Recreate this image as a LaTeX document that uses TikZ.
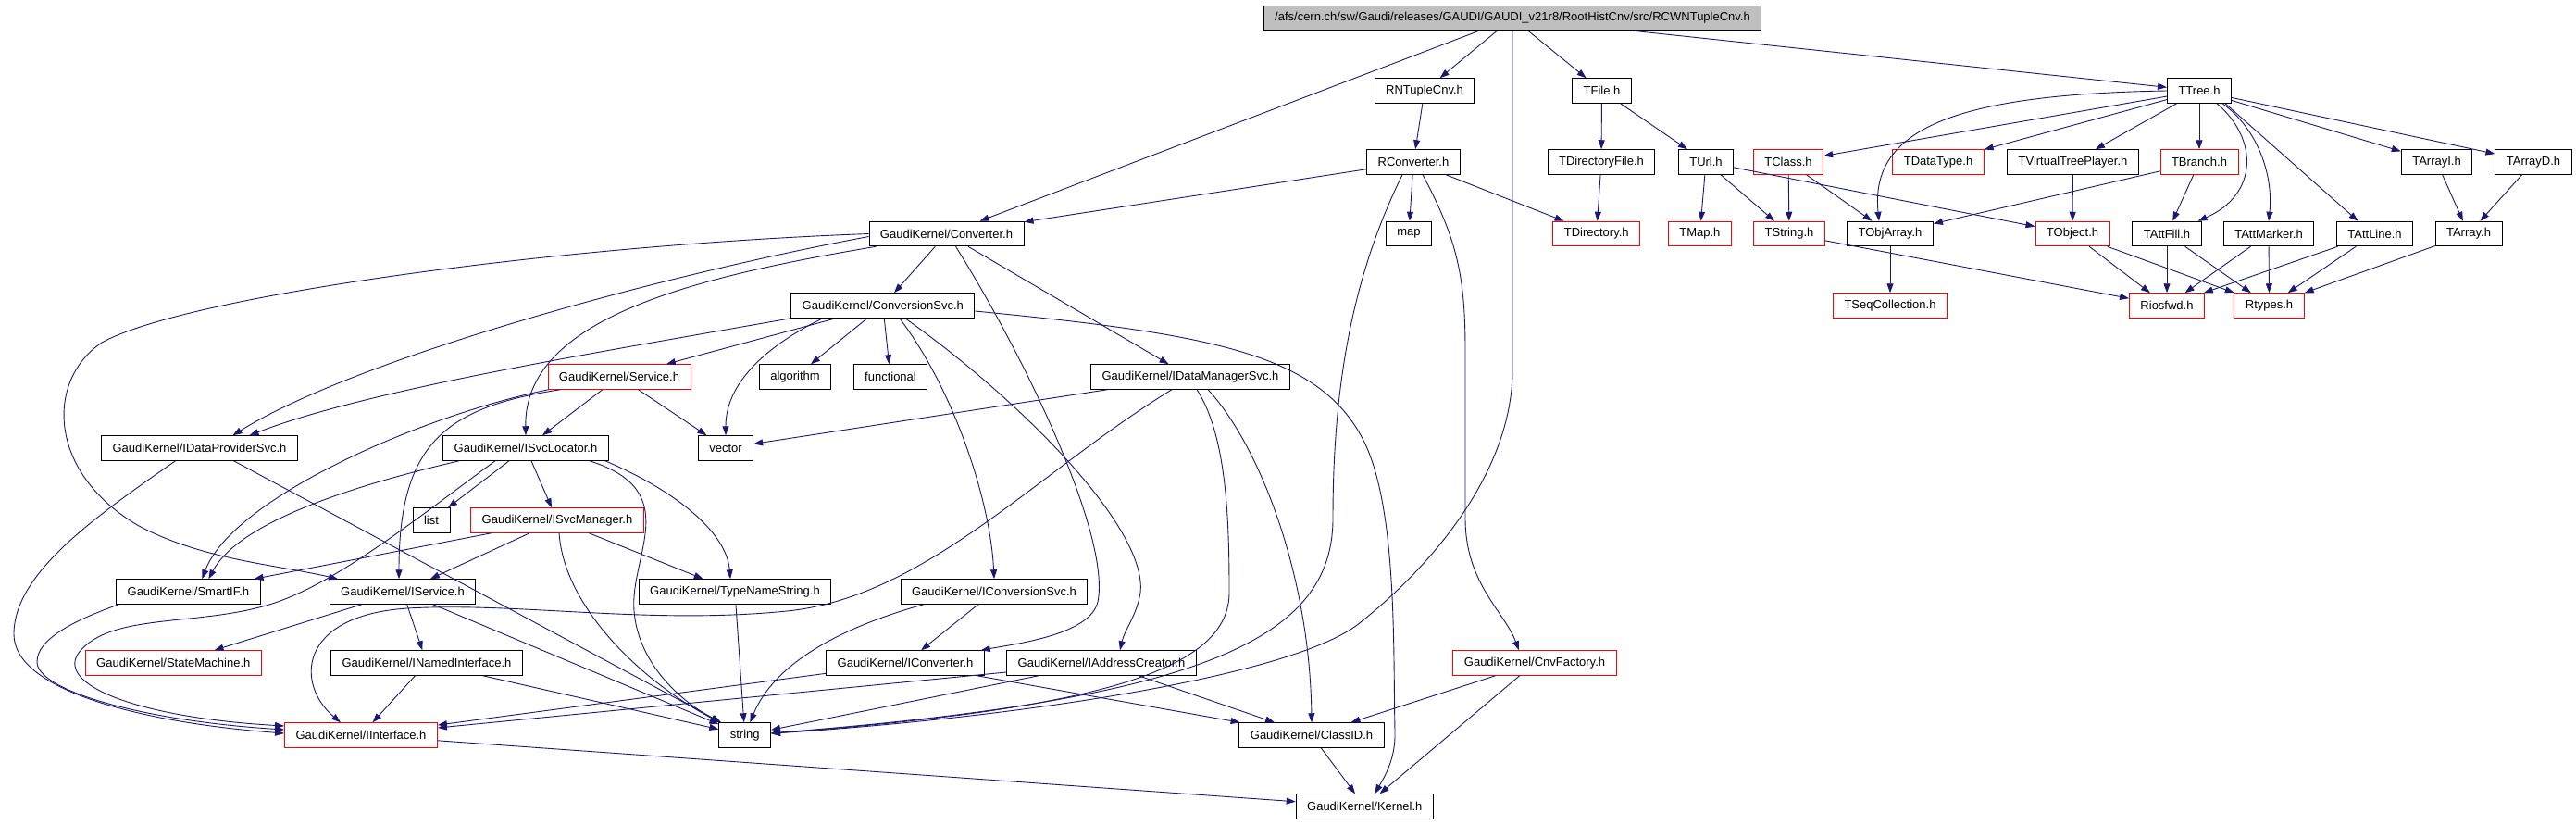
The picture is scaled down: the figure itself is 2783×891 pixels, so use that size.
\documentclass[tikz,border=0pt]{standalone}
\usepackage{fontspec}
\setmainfont{Liberation Sans}
\usetikzlibrary{arrows.meta}
\definecolor{incblue}{HTML}{191970}
\definecolor{topgray}{HTML}{BFBFBF}
\begin{document}
\begin{tikzpicture}[x=1pt,y=-1pt,
		hfile/.style={draw,line width=0.9pt,inner xsep=12pt,inner ysep=0pt,minimum height=26.6pt,font=\fontsize{13}{15}\selectfont},
		hfilered/.style={hfile,draw=red},
		incl/.style={draw=incblue,line width=0.9pt,-{Triangle[length=10pt,width=7pt]}}]
	\useasboundingbox (0,0) rectangle (2783,891);
	\node[hfile,fill=topgray] (top) at (1634,19.5) {/afs/cern.ch/sw/Gaudi/releases/GAUDI/GAUDI\_v21r8/RootHistCnv/src/RCWNTupleCnv.h};
	\node[hfile] (rntuple) at (1539,98) {RNTupleCnv.h};
	\node[hfile] (tfile) at (1730.5,98) {TFile.h};
	\node[hfile] (ttree) at (2376,98) {TTree.h};
	\node[hfile] (rconv) at (1527,175) {RConverter.h};
	\node[hfile] (tdirfile) at (1730,175) {TDirectoryFile.h};
	\node[hfile] (turl) at (1843,175) {TUrl.h};
	\node[hfilered] (tclass) at (1932,175) {TClass.h};
	\node[hfilered] (tdatatype) at (2094,175) {TDataType.h};
	\node[hfile] (tvtp) at (2239.5,175) {TVirtualTreePlayer.h};
	\node[hfilered] (tbranch) at (2376,175) {TBranch.h};
	\node[hfile] (tarrayi) at (2632.5,175) {TArrayI.h};
	\node[hfile] (tarrayd) at (2737,175) {TArrayD.h};
	\node[hfile] (converter) at (1022.5,252.5) {GaudiKernel/Converter.h};
	\node[hfile] (map) at (1522,252.5) {map};
	\node[hfilered] (tdir) at (1724.7,252.5) {TDirectory.h};
	\node[hfilered] (tmap) at (1836.4,252.5) {TMap.h};
	\node[hfilered] (tstring) at (1933,252.5) {TString.h};
	\node[hfile] (tobjarray) at (2042,252.5) {TObjArray.h};
	\node[hfilered] (tobject) at (2239,252.5) {TObject.h};
	\node[hfile] (tattfill) at (2341,252.5) {TAttFill.h};
	\node[hfile] (tattmarker) at (2451,252.5) {TAttMarker.h};
	\node[hfile] (tattline) at (2565.5,252.5) {TAttLine.h};
	\node[hfile] (tarray) at (2667,252.5) {TArray.h};
	\node[hfile] (convsvc) at (953.8,330) {GaudiKernel/ConversionSvc.h};
	\node[hfilered] (tseqcoll) at (2042,330) {TSeqCollection.h};
	\node[hfilered] (riosfwd) at (2341,330) {Riosfwd.h};
	\node[hfilered] (rtypes) at (2451.5,330) {Rtypes.h};
	\node[hfilered] (service) at (669,407) {GaudiKernel/Service.h};
	\node[hfile] (algorithm) at (859,407) {algorithm};
	\node[hfile] (functional) at (962,407) {functional};
	\node[hfile] (idatamgr) at (1286,407) {GaudiKernel/IDataManagerSvc.h};
	\node[hfile] (idataprov) at (215.5,484) {GaudiKernel/IDataProviderSvc.h};
	\node[hfile] (isvcloc) at (568,484) {GaudiKernel/ISvcLocator.h};
	\node[hfile] (vector) at (784,484) {vector};
	\node[hfile] (list) at (466,562) {list};
	\node[hfilered] (isvcmgr) at (602,562) {GaudiKernel/ISvcManager.h};
	\node[hfile] (smartif) at (203.4,639) {GaudiKernel/SmartIF.h};
	\node[hfile] (iservice) at (435,639) {GaudiKernel/IService.h};
	\node[hfile] (typename) at (794,639) {GaudiKernel/TypeNameString.h};
	\node[hfile] (iconvsvc) at (1074,639) {GaudiKernel/IConversionSvc.h};
	\node[hfilered] (statemach) at (187.3,716) {GaudiKernel/StateMachine.h};
	\node[hfile] (inamed) at (461,716) {GaudiKernel/INamedInterface.h};
	\node[hfile] (iconverter) at (978,716) {GaudiKernel/IConverter.h};
	\node[hfile] (iaddr) at (1190,716) {GaudiKernel/IAddressCreator.h};
	\node[hfilered] (cnvfact) at (1658,716) {GaudiKernel/CnvFactory.h};
	\node[hfilered] (iinterface) at (390,794) {GaudiKernel/IInterface.h};
	\node[hfile] (string) at (804.7,794) {string};
	\node[hfile] (classid) at (1417,794) {GaudiKernel/ClassID.h};
	\node[hfile] (kernel) at (1474.3,871) {GaudiKernel/Kernel.h};

	\draw[incl] (top) -- (converter); \draw[incl] (top) -- (rntuple);
	\draw[incl] (top) -- (tfile); \draw[incl] (top) -- (ttree);
	\draw[incl] (top) -- (1634,400) .. controls (1634,500) and (1560,600) .. (1470,672) .. controls (1400,730) and (1100,775) .. (string);
	\draw[incl] (rntuple) -- (rconv);
	\draw[incl] (rconv) -- (converter); \draw[incl] (rconv) -- (map); \draw[incl] (rconv) -- (tdir);
	\draw[incl] ([xshift=-12pt]rconv.south) .. controls (1460,300) and (1440,420) .. (1440,560) .. controls (1440,690) and (1300,755) .. (string);
	\draw[incl] ([xshift=10pt]rconv.south) .. controls (1575,260) and (1583,300) .. (1583,380) -- (1583,560) .. controls (1583,630) and (1625,660) .. ([xshift=-17pt]cnvfact.north);
	\draw[incl] (tfile) -- (tdirfile); \draw[incl] (tfile) -- (turl);
	\draw[incl] (tdirfile) -- (tdir); \draw[incl] (turl) -- (tmap);
	\draw[incl] (turl) -- (tstring); \draw[incl] (turl) -- (tobject);
	\draw[incl] (ttree) -- (tclass); \draw[incl] (ttree) -- (tdatatype);
	\draw[incl] (ttree) -- (tvtp); \draw[incl] (ttree) -- (tbranch);
	\draw[incl] (ttree.west) .. controls (2110,102) and (2020,140) .. ([xshift=-12pt]tobjarray.north);
	\draw[incl] ([xshift=19pt]ttree.south) .. controls (2440,150) and (2440,210) .. ([xshift=-4pt]tattfill.north east);
	\draw[incl] ([xshift=25pt]ttree.south) .. controls (2440,140) and (2456,190) .. (tattmarker.north);
	\draw[incl] ([xshift=28pt]ttree.south) -- ([xshift=-18pt]tattline.north);
	\draw[incl] (ttree) -- (tarrayi); \draw[incl] (ttree) -- (tarrayd);
	\draw[incl] (tclass) -- (tstring); \draw[incl] (tclass) -- (tobjarray);
	\draw[incl] (tvtp) -- (tobject);
	\draw[incl] (tbranch) -- (tobjarray); \draw[incl] (tbranch) -- (tattfill);
	\draw[incl] (tarrayi) -- (tarray); \draw[incl] (tarrayd) -- (tarray);
	\draw[incl] (tobjarray) -- (tseqcoll); \draw[incl] (tstring) -- (riosfwd);
	\draw[incl] (tobject) -- (riosfwd); \draw[incl] (tobject) -- (rtypes);
	\draw[incl] (tattfill) -- (riosfwd); \draw[incl] (tattfill) -- (rtypes);
	\draw[incl] (tattmarker) -- (riosfwd); \draw[incl] (tattmarker) -- (rtypes);
	\draw[incl] (tattline) -- (riosfwd); \draw[incl] (tattline) -- (rtypes);
	\draw[incl] (tarray) -- (rtypes);

	\draw[incl] (converter) -- (convsvc); \draw[incl] (converter) -- (idatamgr);
	\draw[incl] ([xshift=10pt]converter.south) .. controls (1110,390) and (1200,580) .. (1186,650) .. controls (1178,685) and (1100,695) .. ([xshift=-4pt]iconverter.north east);
	\draw[incl] (converter.west) .. controls (600,265) and (200,320) .. (110,370) .. controls (50,410) and (50,510) .. (150,568) .. controls (220,605) and (300,610) .. ([xshift=-70pt]iservice.north);
	\draw[incl] ([yshift=-3pt]converter.west) .. controls (700,300) and (380,390) .. ([xshift=36pt]idataprov.north);
	\draw[incl] ([xshift=8pt]converter.south west) .. controls (745,300) and (566,345) .. (isvcloc.north);
	\draw[incl] (convsvc.south west) .. controls (650,380) and (400,420) .. ([xshift=54pt]idataprov.north);
	\draw[incl] (convsvc) -- (service);
	\draw[incl] ([xshift=-65pt]convsvc.south) .. controls (835,370) and (784,410) .. (vector.north);
	\draw[incl] (convsvc) -- (algorithm); \draw[incl] (convsvc) -- (functional);
	\draw[incl] ([xshift=18pt]convsvc.south) .. controls (1030,420) and (1070,540) .. (iconvsvc.north);
	\draw[incl] ([xshift=24pt]convsvc.south) .. controls (1100,430) and (1240,570) .. (1232,640) .. controls (1228,665) and (1215,680) .. ([xshift=20pt]iaddr.north);
	\draw[incl] ([yshift=-6pt]convsvc.east) .. controls (1300,360) and (1420,380) .. (1470,470) .. controls (1510,540) and (1505,700) .. (1507,790) .. controls (1508,820) and (1495,840) .. ([xshift=11pt]kernel.north);

	\draw[incl] (service) -- (isvcloc); \draw[incl] (service) -- (vector);
	\draw[incl] ([xshift=1pt]service.south west) .. controls (450,450) and (250,540) .. ([xshift=15pt]smartif.north);
	\draw[incl] ([xshift=14pt]service.south west) .. controls (480,440) and (431,480) .. ([xshift=-4pt]iservice.north);
	\draw[incl] ([xshift=18pt]isvcloc.south west) .. controls (400,520) and (260,560) .. ([xshift=22pt]smartif.north);
	\draw[incl] ([xshift=-33pt]isvcloc.south) .. controls (450,560) and (370,625) .. (300,650) .. controls (220,678) and (120,660) .. (85,705) .. controls (60,740) and (150,775) .. ([yshift=10pt]iinterface.west);
	\draw[incl] (isvcloc) -- (list); \draw[incl] (isvcloc) -- (isvcmgr);
	\draw[incl] ([xshift=-21pt]isvcloc.south east) .. controls (740,530) and (680,600) .. (685,660) .. controls (690,720) and (740,760) .. (string);
	\draw[incl] ([xshift=-4pt]isvcloc.south east) .. controls (730,530) and (785,575) .. ([xshift=-5pt]typename.north);
	\draw[incl] (isvcmgr) -- (smartif); \draw[incl] (isvcmgr) -- (iservice);
	\draw[incl] ([xshift=2pt]isvcmgr.south) .. controls (610,660) and (700,740) .. (string);
	\draw[incl] (isvcmgr) -- (typename);
	\draw[incl] ([xshift=-26pt]idataprov.south) .. controls (100,560) and (15,620) .. (15,685) .. controls (15,745) and (150,780) .. ([yshift=2pt]iinterface.west);
	\draw[incl] ([xshift=37pt]idataprov.south) -- (string);
	\draw[incl] ([xshift=-75pt]smartif.south) .. controls (80,670) and (40,690) .. (40,715) .. controls (40,745) and (150,778) .. ([yshift=6pt]iinterface.west);
	\draw[incl] (iservice) -- (statemach); \draw[incl] (iservice) -- (inamed);
	\draw[incl] (iservice) -- (string);
	\draw[incl] (inamed) -- (iinterface); \draw[incl] (inamed) -- (string);
	\draw[incl] (typename) -- (string);
	\draw[incl] (iconvsvc) -- (iconverter);
	\draw[incl] ([xshift=-76pt]iconvsvc.south) .. controls (900,680) and (835,720) .. (string);
	\draw[incl] (iconverter) -- (iinterface); \draw[incl] (iconverter) -- (classid);
	\draw[incl] (iaddr) -- (iinterface); \draw[incl] (iaddr) -- (classid);
	\draw[incl] (iaddr) -- (string);
	\draw[incl] (cnvfact) -- (classid); \draw[incl] (cnvfact) -- (kernel);
	\draw[incl] (classid) -- (kernel); \draw[incl] (iinterface) -- (kernel);
	\draw[incl] (idatamgr) -- (vector);
	\draw[incl] ([xshift=-20pt]idatamgr.south) .. controls (1120,510) and (1000,645) .. (850,660) .. controls (700,675) and (560,650) .. (440,657) .. controls (320,665) and (320,740) .. ([xshift=-22pt]iinterface.north);
	\draw[incl] ([xshift=7pt]idatamgr.south) .. controls (1325,470) and (1328,560) .. (1328,640) .. controls (1328,720) and (1200,765) .. (string);
	\draw[incl] ([xshift=19pt]idatamgr.south) .. controls (1360,480) and (1415,620) .. (classid.north);
\end{tikzpicture}
\end{document}
